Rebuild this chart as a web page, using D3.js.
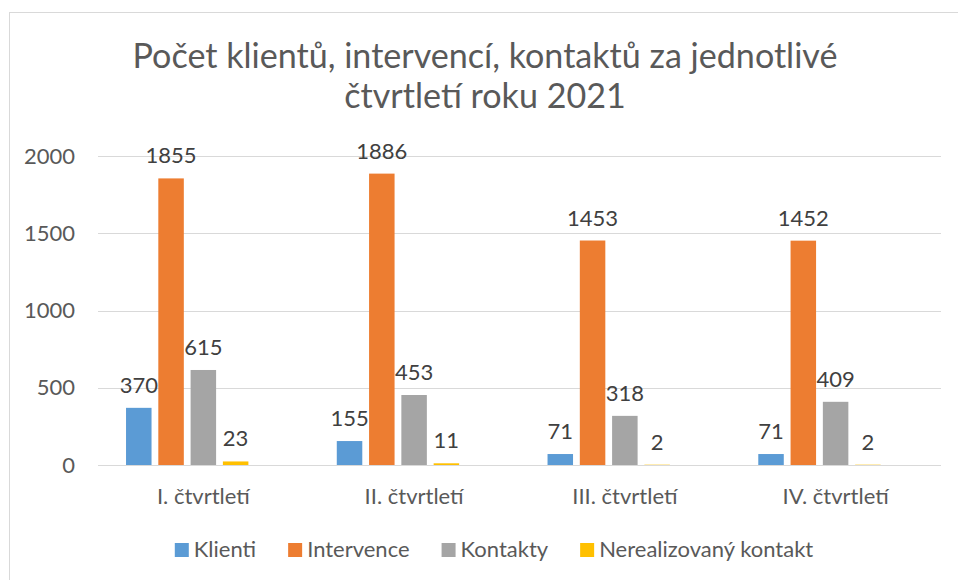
<!DOCTYPE html>
<html>
<head>
<meta charset="utf-8">
<script src="https://cdn.jsdelivr.net/npm/d3@7"></script>
<style>
  body { margin: 0; background: #fff; }
  text { font-family: Lato, "Liberation Sans", sans-serif; }
</style>
</head>
<body>
<div id="chart"></div>
<script>
// data
var quarters = ["I. čtvrtletí", "II. čtvrtletí", "III. čtvrtletí", "IV. čtvrtletí"];
var series = ["Klienti", "Intervence", "Kontakty", "Nerealizovaný kontakt"];
var klienti = [370, 155, 71, 71];
var intervence = [1855, 1886, 1453, 1452];
var kontakty = [615, 453, 318, 409];
var nerealizovany = [23, 11, 2, 2];
var yTicks = [0, 500, 1000, 1500, 2000];
var colors = ["#5B9BD5", "#ED7D31", "#A5A5A5", "#FFC000"];
var titleLines = ["Počet klientů, intervencí, kontaktů za jednotlivé", "čtvrtletí roku 2021"];

var values = [klienti, intervence, kontakty, nerealizovany];
var rows = [];
quarters.forEach(function(q, i) {
    series.forEach(function(s, j) {
        rows.push({quarter: q, series: s, value: values[j][i], idx: j});
    });
});

var width = 958, height = 580;
var svg = d3.select("#chart").append("svg")
    .attr("width", width)
    .attr("height", height);

// chart frame (runs off the right/bottom edge)
svg.append("rect")
    .attr("x", 9.5).attr("y", 12.5)
    .attr("width", 980).attr("height", 600)
    .attr("fill", "#fff")
    .attr("stroke", "#d9d9d9");

// title, fitted to width
var title = svg.append("g").attr("class", "title");
var titleText = title.selectAll("text")
    .data(titleLines).enter().append("text")
    .attr("x", 485)
    .attr("y", function(d, i) { return 68 + i * 40; })
    .attr("text-anchor", "middle")
    .attr("fill", "#595959")
    .style("font-size", "30px")
    .text(function(d) { return d; });
var w0 = titleText.node().getComputedTextLength();
titleText.style("font-size", (30 * 705 / w0) + "px");

var x0 = d3.scaleBand().domain(quarters).range([98, 941]);
var bw = x0.bandwidth();
var x1 = d3.scaleBand().domain(series)
    .range([0.133 * bw, 0.7136 * bw])
    .paddingInner(0.21);
var y = d3.scaleLinear().domain([0, 2000]).range([465, 156]);

// gridlines
svg.append("g").selectAll("line")
    .data(yTicks).enter().append("line")
    .attr("x1", 98).attr("x2", 941)
    .attr("y1", function(d) { return Math.round(y(d)) + 0.5; })
    .attr("y2", function(d) { return Math.round(y(d)) + 0.5; })
    .attr("stroke", "#d9d9d9")
    .attr("stroke-width", 1);

// y axis labels
var yAxis = d3.axisLeft(y).tickValues(yTicks).tickFormat(d3.format("d")).tickSize(0).tickPadding(0);
var yg = svg.append("g")
    .attr("transform", "translate(75,0)")
    .call(yAxis);
yg.select(".domain").remove();
yg.selectAll("text")
    .attr("fill", "#595959")
    .style("font-size", "22px")
    .style("font-family", "Lato, 'Liberation Sans', sans-serif");

// x axis labels
var xAxis = d3.axisBottom(x0).tickSize(0).tickPadding(0);
var xg = svg.append("g")
    .attr("transform", "translate(0,487)")
    .call(xAxis);
xg.select(".domain").remove();
xg.selectAll("text")
    .attr("dy", "0.75em")
    .attr("fill", "#595959")
    .style("font-size", "22px")
    .style("font-family", "Lato, 'Liberation Sans', sans-serif");

// bars
svg.append("g").selectAll("rect")
    .data(rows).enter().append("rect")
    .attr("x", function(d) { return x0(d.quarter) + x1(d.series); })
    .attr("y", function(d) { return y(d.value); })
    .attr("width", x1.bandwidth())
    .attr("height", function(d) { return y(0) - y(d.value); })
    .attr("fill", function(d) { return colors[d.idx]; });

// value labels
svg.append("g").selectAll("text")
    .data(rows).enter().append("text")
    .attr("x", function(d) { return x0(d.quarter) + x1(d.series) + x1.bandwidth() / 2; })
    .attr("y", function(d) { return y(d.value) - 15; })
    .attr("text-anchor", "middle")
    .attr("fill", "#404040")
    .style("font-size", "22px")
    .text(function(d) { return d.value; });

// legend
var legend = svg.append("g").attr("class", "legend");
var items = legend.selectAll("g")
    .data(series).enter().append("g");
items.append("rect")
    .attr("width", 14).attr("height", 14)
    .attr("y", 543)
    .attr("fill", function(d, i) { return colors[i]; });
items.append("text")
    .attr("x", 19)
    .attr("y", 557)
    .attr("fill", "#595959")
    .style("font-size", "22px")
    .text(function(d) { return d; });
var pos = 0, offsets = [];
items.each(function() {
    offsets.push(pos);
    pos += 19 + d3.select(this).select("text").node().getComputedTextLength() + 32;
});
var total = pos - 32;
var start = 494 - total / 2;
items.attr("transform", function(d, i) { return "translate(" + (start + offsets[i]) + ",0)"; });
</script>
</body>
</html>
